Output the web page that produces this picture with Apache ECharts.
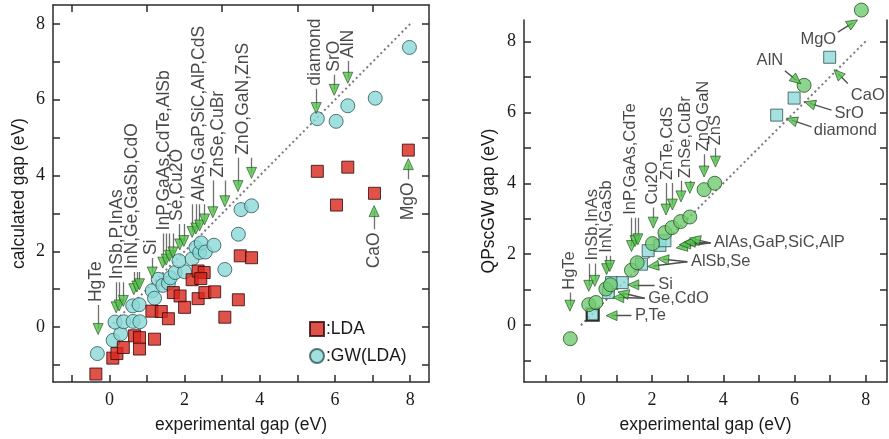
<!DOCTYPE html>
<html>
<head>
<meta charset="utf-8">
<script src="https://cdn.jsdelivr.net/npm/echarts@6/dist/echarts.min.js"></script>
<style>
html, body { margin: 0; padding: 0; background: #fff; }
#chart { width: 889px; height: 439px; }
</style>
</head>
<body>
<div id="chart"></div>
<script>
// ---- left panel: LDA and GW(LDA) against experiment ----
const ldaExp  = [-0.36, 0.09, 0.2, 0.37, 0.67, 0.8, 0.8, 1.2, 1.13, 1.38, 1.57, 1.7, 1.88, 2.0, 2.2, 2.36, 2.52, 2.43, 2.36, 2.54, 2.8, 3.07, 3.43, 3.48, 3.78, 5.53, 6.04, 6.34, 7.05, 7.95];
const ldaCalc = [-1.24, -0.82, -0.7, -0.54, -0.23, -0.28, -0.58, -0.32, 0.42, 0.41, 0.22, 0.91, 0.82, 0.52, 1.25, 1.48, 1.44, 1.28, 0.75, 0.91, 0.93, 0.26, 0.72, 1.88, 1.83, 4.11, 3.22, 4.22, 3.53, 4.67];
const gwExp   = [-0.32, 0.1, 0.3, 0.15, 0.38, 0.63, 0.81, 0.62, 0.79, 1.14, 1.2, 1.3, 1.42, 1.57, 1.62, 1.75, 2.0, 1.85, 2.2, 2.3, 2.4, 2.44, 2.55, 2.78, 3.07, 3.43, 3.5, 3.78, 5.53, 6.03, 6.34, 7.07, 7.98];
const gwCalc  = [-0.7, -0.35, -0.18, 0.13, 0.14, 0.15, 0.14, 0.56, 0.59, 0.96, 0.76, 1.26, 1.1, 1.16, 1.3, 1.44, 1.46, 1.75, 1.8, 2.1, 1.97, 2.22, 1.98, 2.16, 1.52, 2.45, 3.1, 3.2, 5.5, 5.43, 5.84, 6.04, 7.38];

// ---- right panel: QPscGW ----
const qpExp    = [-0.3, 0.22, 0.42, 0.7, 0.83, 1.42, 1.58, 2.01, 2.36, 2.56, 2.8, 3.06, 3.46, 3.76, 6.27, 7.88];
const qpCalc   = [-0.38, 0.58, 0.64, 1.02, 1.14, 1.55, 1.76, 2.3, 2.61, 2.75, 2.92, 3.05, 3.82, 4.0, 6.76, 8.88];
const qpSqExp  = [0.33, 0.77, 0.86, 1.16, 1.7, 1.89, 2.22, 2.36, 5.5, 5.99, 6.99];
const qpSqCalc = [0.3, 0.92, 1.2, 1.2, 1.72, 2.1, 2.25, 2.38, 5.92, 6.4, 7.55];

const diagonal = [0, 8];
const xLabels = [0, 2, 4, 6, 8];
const yLabels = [0, 2, 4, 6, 8];
const ticksAll = [-1, 0, 1, 2, 3, 4, 5, 6, 7, 8];
const ticksOdd = [-1, 1, 3, 5, 7];

// ---- left panel annotations (downward arrows, vertical labels) ----
const leftLabels = ['HgTe', 'InSb,P,InAs', 'InN,Ge,GaSb,CdO', 'Si', 'InP,GaAs,CdTe,AlSb', 'Se,Cu2O', 'AlAs,GaP,SiC,AlP,CdS', 'ZnSe,CuBr', 'ZnO,GaN,ZnS', 'diamond', 'SrO', 'AlN'];
const leftLabelX = [-0.35, 0.2, 0.6, 1.11, 1.45, 1.8, 2.4, 2.88, 3.55, 5.47, 5.97, 6.35];
const leftLabelY = [0.66, 1.26, 1.53, 1.9, 2.55, 2.8, 3.32, 3.95, 4.55, 6.37, 6.74, 7.1];
const leftArrowX = [-0.3, 0.18, 0.26, 0.37, 0.65, 0.73, 0.8, 1.14, 1.42, 1.51, 1.6, 1.69, 1.87, 1.98, 2.2, 2.3, 2.4, 2.53, 2.75, 3.07, 3.42, 3.78, 5.5, 5.98, 6.34];
const leftArrowY = [-0.05, 0.52, 0.57, 0.69, 1.0, 1.07, 1.13, 1.44, 1.7, 1.78, 1.88, 1.97, 2.18, 2.27, 2.51, 2.6, 2.68, 2.84, 3.03, 3.32, 3.72, 4.07, 5.78, 6.26, 6.58];
const leftArrowGroup = [0, 1, 1, 1, 2, 2, 2, 3, 4, 4, 4, 4, 5, 5, 6, 6, 6, 6, 7, 7, 8, 8, 9, 10, 11];

// upward arrows under CaO / MgO
const upLabels = ['CaO', 'MgO'];
const upX = [7.04, 7.95];
const upTipY = [3.06, 4.3];
const upLabelTop = [2.5, 3.82];

// ---- right panel annotations ----
const rightLabels = ['HgTe', 'InSb,InAs', 'InN,GaSb', 'InP,GaAs,CdTe', 'Cu2O', 'ZnTe,CdS', 'ZnSe,CuBr', 'ZnO,GaN', 'ZnS'];
const rightLabelX = [-0.31, 0.31, 0.73, 1.38, 2.02, 2.44, 2.95, 3.43, 3.79];
const rightLabelY = [1.0, 1.82, 2.04, 3.11, 3.4, 4.09, 4.15, 4.9, 5.07];
const rightArrowX = [-0.31, 0.22, 0.39, 0.72, 0.81, 1.42, 1.52, 1.6, 2.03, 2.39, 2.57, 2.81, 3.06, 3.46, 3.78];
const rightArrowY = [0.55, 1.11, 1.25, 1.58, 1.67, 2.23, 2.37, 2.42, 2.89, 3.26, 3.4, 3.63, 3.87, 4.33, 4.61];
const rightArrowGroup = [0, 1, 1, 2, 2, 3, 3, 3, 4, 5, 5, 6, 6, 7, 8];

const sideLabels = ['P,Te', 'Ge,CdO', 'Si', 'AlSb,Se', 'AlAs,GaP,SiC,AlP'];
const sideLabelX = [1.52, 1.89, 2.17, 3.09, 3.74];
const sideLabelY = [0.27, 0.76, 1.14, 1.79, 2.32];
const sideArrowX = [0.86, 1.05, 1.19, 1.47, 2.03, 2.31, 2.83, 2.92, 3.06, 3.2];
const sideArrowY = [0.27, 0.78, 0.9, 1.14, 1.67, 1.86, 2.2, 2.28, 2.34, 2.42];
const sideArrowGroup = [0, 1, 1, 2, 3, 3, 4, 4, 4, 4];

const cornerLabels = ['MgO', 'AlN', 'CaO', 'SrO', 'diamond'];
const cornerLabelX = [6.67, 5.31, 8.06, 7.54, 7.43];
const cornerLabelY = [8.04, 7.45, 6.47, 5.97, 5.49];
const cornerTailX = [7.22, 5.73, 7.5, 7.04, 6.48];
const cornerTailY = [8.26, 7.17, 6.81, 6.06, 5.59];
const cornerTipX = [7.64, 6.06, 7.22, 6.43, 5.92];
const cornerTipY = [8.52, 6.9, 7.09, 6.25, 5.78];

// ---------------------------------------------------------------
const AXIS = '#2b2b2b';
const TXT = '#1a1a1a';
const SANS = "'Liberation Sans', Arial, sans-serif";
const SERIF = "'Liberation Serif', 'Times New Roman', serif";
const TRI = '#52c34a';
const STEM = '#707070';

const zip = (a, b) => a.map((v, i) => [v, b[i]]);

function xAx(grid, pos, min, max, opts) {
  return Object.assign({
    type: 'value', gridIndex: grid, position: pos, min: min, max: max,
    splitLine: { show: false },
    axisLine: { show: true, onZero: false, lineStyle: { color: AXIS, width: 1.5 } },
    axisTick: { show: true, inside: true, length: 7, customValues: ticksAll, lineStyle: { color: AXIS, width: 1.5 } },
    axisLabel: { show: false }
  }, opts || {});
}
const tickLabel = { show: true, customValues: xLabels, color: TXT, fontFamily: SERIF, fontSize: 18, margin: 9 };
const axisName = { color: TXT, fontFamily: SANS, fontSize: 17.5 };

// pixel-per-unit ratio is near 1:1 on both panels, so the arrow angle is taken in data space
function angleOf(dx, dy) { return Math.atan2(dy, dx) * 180 / Math.PI - 90; }

function triSeries(name, xi, yi, pts) {
  return {
    name: name, type: 'scatter', xAxisIndex: xi, yAxisIndex: yi, symbol: 'triangle', symbolSize: [10, 11],
    clip: false, z: 6, silent: true,
    itemStyle: { color: TRI, borderColor: '#1f4a1a', borderWidth: 0.8 },
    data: pts.map(p => ({ value: [p[0], p[1]], symbolRotate: p[2] }))
  };
}
function stemSeries(name, xi, yi, segs, color, width) {
  return {
    name: name, type: 'lines', coordinateSystem: 'cartesian2d', xAxisIndex: xi, yAxisIndex: yi,
    z: 4, silent: true, symbol: 'none',
    lineStyle: { color: color || STEM, width: width || 1.3, opacity: 1 },
    data: segs.map(s => ({ coords: s }))
  };
}
function textSeries(name, xi, yi, items, labelOpts) {
  return {
    name: name, type: 'scatter', xAxisIndex: xi, yAxisIndex: yi, symbolSize: 1, clip: false, z: 7, silent: true,
    itemStyle: { color: 'rgba(0,0,0,0)' },
    label: Object.assign({ show: true, position: 'inside', formatter: '{b}', color: TXT, fontFamily: SANS, fontSize: 17.5 }, labelOpts),
    data: items.map(t => ({ name: t[2], value: [t[0], t[1]] }))
  };
}

// left panel annotation geometry
const leftStems = leftArrowX.map((x, i) => [[x, leftArrowY[i]], [x, leftLabelY[leftArrowGroup[i]] - 0.08]]);
const leftTris = leftArrowX.map((x, i) => [x, leftArrowY[i], 180]);
const upStems = upX.map((x, i) => [[x, upTipY[i]], [x, upLabelTop[i] + 0.08]]);
const upTris = upX.map((x, i) => [x, upTipY[i], 0]);

// right panel annotation geometry
const rightStems = rightArrowX.map((x, i) => [[x, rightArrowY[i]], [x, rightLabelY[rightArrowGroup[i]] - 0.08]]);
const rightTris = rightArrowX.map((x, i) => [x, rightArrowY[i], 180]);
const sideStems = sideArrowX.map((x, i) => {
  const g = sideArrowGroup[i];
  return [[x, sideArrowY[i]], [sideLabelX[g] - 0.1, sideLabelY[g]]];
});
const sideTris = sideArrowX.map((x, i) => {
  const g = sideArrowGroup[i];
  return [x, sideArrowY[i], angleOf(x - (sideLabelX[g] - 0.1), sideArrowY[i] - sideLabelY[g])];
});
const cornerStems = cornerTipX.map((x, i) => [[cornerTailX[i], cornerTailY[i]], [x, cornerTipY[i]]]);
const cornerTris = cornerTipX.map((x, i) => [x, cornerTipY[i], angleOf(x - cornerTailX[i], cornerTipY[i] - cornerTailY[i])]);

const chart = echarts.init(document.getElementById('chart'), null, { renderer: 'canvas' });
chart.setOption({
  backgroundColor: '#fff',
  animation: false,
  grid: [
    { left: 53, top: 5, width: 376, height: 378 },
    { left: 524, top: 20, width: 363, height: 364 }
  ],
  legend: {
    data: [':LDA', ':GW(LDA)'], orient: 'vertical', left: 309, top: 320, itemGap: 9,
    itemWidth: 14, itemHeight: 14, padding: 0, selectedMode: false,
    textStyle: { color: TXT, fontFamily: SANS, fontSize: 17.5, padding: [0, 0, 0, -3] }
  },
  xAxis: [
    xAx(0, 'bottom', -1.5, 8.5, { axisLabel: tickLabel, name: 'experimental gap (eV)', nameLocation: 'middle', nameGap: 34, nameTextStyle: axisName }),
    xAx(0, 'top', -1.5, 8.5, { axisTick: { show: true, inside: true, length: 7, customValues: ticksOdd, lineStyle: { color: AXIS, width: 1.5 } } }),
    xAx(1, 'bottom', -1.6, 8.6, { axisLabel: tickLabel, name: 'experimental gap (eV)', nameLocation: 'middle', nameGap: 34, nameTextStyle: axisName })
  ],
  yAxis: [
    xAx(0, 'left', -1.45, 8.5, { axisLabel: Object.assign({}, tickLabel, { customValues: yLabels, margin: 8 }), name: 'calculated gap (eV)', nameLocation: 'middle', nameGap: 25, nameTextStyle: axisName }),
    xAx(0, 'right', -1.45, 8.5),
    xAx(1, 'left', -1.6, 8.6, { axisLabel: Object.assign({}, tickLabel, { customValues: yLabels, margin: 8 }), name: 'QPscGW gap (eV)', nameLocation: 'middle', nameGap: 26, nameTextStyle: axisName }),
    xAx(1, 'right', -1.6, 8.6)
  ],
  series: [
    // left panel
    { name: 'diag-left', type: 'line', xAxisIndex: 0, yAxisIndex: 0, symbol: 'none', silent: true, z: 1,
      lineStyle: { color: '#7a7a7a', width: 2, type: [2, 3] }, data: diagonal.map(v => [v, v]) },
    { name: ':GW(LDA)', type: 'scatter', xAxisIndex: 0, yAxisIndex: 0, symbol: 'circle', symbolSize: 14, z: 2,
      itemStyle: { color: '#8ad8d6', borderColor: '#2d5858', borderWidth: 1 }, data: zip(gwExp, gwCalc) },
    { name: ':LDA', type: 'scatter', xAxisIndex: 0, yAxisIndex: 0, symbol: 'rect', symbolSize: 12, z: 3,
      itemStyle: { color: '#d8261c', borderColor: '#2e0806', borderWidth: 1 }, data: zip(ldaExp, ldaCalc) },
    stemSeries('stems-left', 0, 0, leftStems),
    stemSeries('stems-up', 0, 0, upStems),
    triSeries('tri-left', 0, 0, leftTris.concat(upTris)),
    textSeries('labels-left', 0, 0, leftLabelX.map((x, i) => [x, leftLabelY[i], leftLabels[i]]),
      { rotate: 90, align: 'left', verticalAlign: 'middle' }),
    textSeries('labels-up', 0, 0, upX.map((x, i) => [x, upLabelTop[i], upLabels[i]]),
      { rotate: 90, align: 'right', verticalAlign: 'middle' }),

    // right panel
    { name: 'diag-right', type: 'line', xAxisIndex: 2, yAxisIndex: 2, symbol: 'none', silent: true, z: 1,
      lineStyle: { color: '#7a7a7a', width: 2, type: [2, 3] }, data: diagonal.map(v => [v, v]) },
    { name: 'qp-sq', type: 'scatter', xAxisIndex: 2, yAxisIndex: 2, symbol: 'rect', symbolSize: 12, z: 2,
      itemStyle: { color: '#8fdad8', borderColor: '#2d5252', borderWidth: 1 },
      data: zip(qpSqExp, qpSqCalc).map((p, i) => i === 0 ? { value: p, itemStyle: { borderColor: '#000', borderWidth: 2.2 } } : p) },
    { name: 'qp', type: 'scatter', xAxisIndex: 2, yAxisIndex: 2, symbol: 'circle', symbolSize: 14, z: 3, clip: false,
      itemStyle: { color: '#6fcb70', borderColor: '#2a4f2a', borderWidth: 1 }, data: zip(qpExp, qpCalc) },
    stemSeries('stems-right', 2, 2, rightStems),
    stemSeries('stems-side', 2, 2, sideStems.concat(cornerStems), '#505050', 1.4),
    triSeries('tri-right', 2, 2, rightTris.concat(sideTris, cornerTris)),
    textSeries('labels-right', 2, 2, rightLabelX.map((x, i) => [x, rightLabelY[i], rightLabels[i]]),
      { rotate: 90, align: 'left', verticalAlign: 'middle', fontSize: 16.5 }),
    textSeries('labels-side', 2, 2, sideLabelX.map((x, i) => [x, sideLabelY[i], sideLabels[i]]),
      { align: 'left', verticalAlign: 'middle', fontSize: 16.5 }),
    textSeries('labels-corner', 2, 2, cornerLabelX.map((x, i) => [x, cornerLabelY[i], cornerLabels[i]]),
      { align: 'center', verticalAlign: 'middle', fontSize: 16.5 })
  ]
});
</script>
</body>
</html>
